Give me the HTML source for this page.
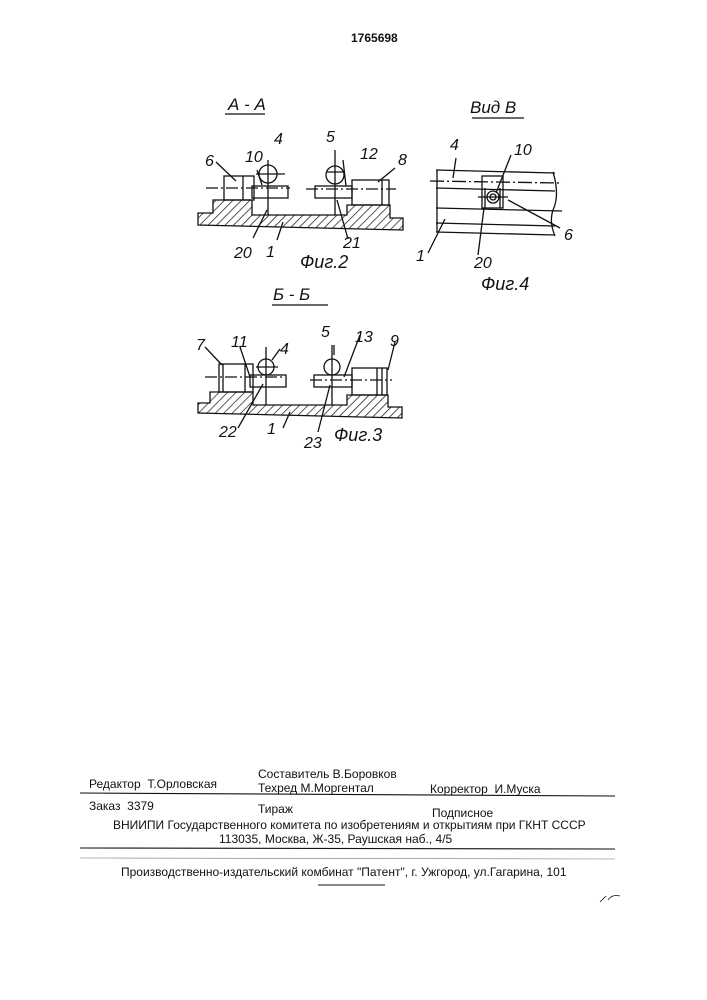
<!DOCTYPE html>
<html><head><meta charset="utf-8"><style>
body{margin:0;background:#fff;}
.pg{position:relative;width:707px;height:1000px;overflow:hidden;background:#fff;font-family:"Liberation Sans",sans-serif;color:#111;}
.t{position:absolute;font-size:12px;white-space:nowrap;}
</style></head><body><div class="pg">
<div class="t" style="left:351px;top:31px;font-size:12px;font-weight:bold;">1765698</div>
<svg width="707" height="1000" style="position:absolute;left:0;top:0" font-family="Liberation Sans, sans-serif" font-style="italic">
<defs><pattern id="h" width="6" height="6" patternUnits="userSpaceOnUse" patternTransform="rotate(45)"><line x1="0" y1="0" x2="0" y2="6" stroke="#111" stroke-width="1.4"/></pattern></defs>
<g stroke="#111" stroke-width="1.3" fill="none">
<!-- Fig 2 -->
<text x="228" y="110" font-size="17" fill="#111" stroke="none">А - А</text>
<line x1="225" y1="114" x2="265" y2="114"/>
<path d="M198,213 L213,213 L213,200 L252,200 L252,215 L347,215 L347,205 L390,205 L390,218 L403,218 L403,230 L198,225 Z" fill="url(#h)"/>
<rect x="224" y="176" width="30" height="24"/><line x1="243" y1="176" x2="243" y2="200"/>
<rect x="252" y="186" width="36" height="12"/>
<line x1="206" y1="188" x2="290" y2="188" stroke-dasharray="12,3,2,3"/>
<circle cx="268" cy="174" r="9"/><line x1="256" y1="174" x2="285" y2="174"/><line x1="268" y1="160" x2="268" y2="215"/>
<rect x="315" y="186" width="37" height="12"/>
<rect x="352" y="180" width="37" height="25"/><line x1="382" y1="180" x2="382" y2="205"/>
<line x1="306" y1="189" x2="396" y2="189" stroke-dasharray="12,3,2,3"/>
<circle cx="335" cy="175" r="9"/><line x1="326" y1="172" x2="345" y2="172"/><line x1="335" y1="150" x2="335" y2="215"/>
<line x1="216" y1="162" x2="236" y2="181"/><line x1="257" y1="170" x2="262" y2="185"/>
<line x1="395" y1="168" x2="378" y2="182"/><line x1="343" y1="160" x2="346" y2="186"/>
<line x1="267" y1="210" x2="253" y2="238"/><line x1="283" y1="222" x2="277" y2="240"/><line x1="337" y1="200" x2="348" y2="239"/>
<g fill="#111" stroke="none" font-size="16">
<text x="205" y="166">6</text><text x="245" y="162">10</text><text x="274" y="144">4</text>
<text x="326" y="142">5</text><text x="360" y="159">12</text><text x="398" y="165">8</text>
<text x="234" y="258">20</text><text x="266" y="257">1</text><text x="343" y="248">21</text>
<text x="300" y="268" font-size="18">Фиг.2</text>
<!-- Fig 3 labels -->
<text x="273" y="300" font-size="17">Б - Б</text>
<text x="196" y="350">7</text><text x="231" y="347">11</text><text x="280" y="354">4</text>
<text x="321" y="337">5</text><text x="355" y="342">13</text><text x="390" y="346">9</text>
<text x="219" y="437">22</text><text x="267" y="434">1</text><text x="304" y="448">23</text>
<text x="334" y="441" font-size="18">Фиг.3</text>
<!-- Fig 4 labels -->
<text x="470" y="113" font-size="17">Вид В</text>
<text x="450" y="150">4</text><text x="514" y="155">10</text><text x="564" y="240">6</text>
<text x="416" y="261">1</text><text x="474" y="268">20</text>
<text x="481" y="290" font-size="18">Фиг.4</text>
</g>
<!-- Fig 3 -->
<line x1="272" y1="305" x2="328" y2="305"/>
<path d="M198,403 L210,403 L210,392 L253,392 L253,405 L347,405 L347,395 L388,395 L388,407 L402,407 L402,418 L198,413 Z" fill="url(#h)"/>
<rect x="219" y="364" width="34" height="28"/><line x1="245" y1="364" x2="245" y2="392"/><line x1="223" y1="364" x2="223" y2="392"/>
<rect x="250" y="375" width="36" height="12"/>
<line x1="205" y1="377" x2="285" y2="377" stroke-dasharray="12,3,2,3"/>
<circle cx="266" cy="367" r="8"/><line x1="256" y1="367" x2="278" y2="367"/><line x1="266" y1="347" x2="266" y2="405"/>
<rect x="314" y="375" width="38" height="12"/>
<rect x="352" y="368" width="35" height="27"/><line x1="377" y1="368" x2="377" y2="395"/><line x1="382" y1="368" x2="382" y2="395"/>
<line x1="310" y1="380" x2="392" y2="380" stroke-dasharray="12,3,2,3"/>
<circle cx="332" cy="367" r="8"/><line x1="332" y1="345" x2="332" y2="405"/><line x1="334" y1="345" x2="334" y2="355"/>
<line x1="205" y1="347" x2="222" y2="365"/><line x1="240" y1="347" x2="250" y2="377"/><line x1="280" y1="349" x2="272" y2="360"/>
<line x1="360" y1="335" x2="344" y2="377"/><line x1="395" y1="342" x2="388" y2="370"/>
<line x1="263" y1="384" x2="238" y2="428"/><line x1="290" y1="412" x2="283" y2="428"/><line x1="330" y1="385" x2="318" y2="432"/>
<!-- Fig 4 -->
<line x1="472" y1="118" x2="524" y2="118"/>
<line x1="436" y1="170" x2="555" y2="173"/>
<line x1="430" y1="181" x2="562" y2="183" stroke-dasharray="14,3,2,3"/>
<line x1="436" y1="188" x2="555" y2="191"/>
<line x1="436" y1="208" x2="562" y2="211"/>
<line x1="436" y1="223" x2="555" y2="226"/>
<line x1="436" y1="232" x2="555" y2="235"/>
<line x1="437" y1="170" x2="437" y2="232"/>
<path d="M553,172 Q560,195 553,210 Q549,222 555,236"/>
<rect x="482" y="176" width="21" height="32"/>
<line x1="485" y1="188" x2="485" y2="208"/><line x1="500" y1="188" x2="500" y2="208"/>
<circle cx="493" cy="197" r="6"/><circle cx="493" cy="197" r="3"/>
<line x1="478" y1="197" x2="508" y2="197"/>
<line x1="456" y1="158" x2="453" y2="178"/>
<line x1="511" y1="155" x2="496" y2="193"/><line x1="508" y1="200" x2="560" y2="228"/>
<line x1="445" y1="219" x2="428" y2="253"/><line x1="484" y1="208" x2="478" y2="255"/>
<!-- footer lines -->
<line x1="80" y1="793" x2="615" y2="796" stroke-width="1.1"/>
<line x1="80" y1="848" x2="615" y2="849" stroke-width="1.1"/>
<line x1="80" y1="858" x2="615" y2="859" stroke-width="0.6" stroke="#777"/>
<line x1="318" y1="885" x2="385" y2="885" stroke-width="1"/>
<path d="M600,902 L606,896 M608,900 Q612,894 620,896" stroke-width="0.8"/>
</g>
</svg>
<div class="t" style="left:89px;top:777px;">Редактор&nbsp; Т.Орловская</div>
<div class="t" style="left:258px;top:767px;">Составитель В.Боровков</div>
<div class="t" style="left:258px;top:781px;">Техред М.Моргентал</div>
<div class="t" style="left:430px;top:782px;">Корректор&nbsp; И.Муска</div>
<div class="t" style="left:89px;top:799px;">Заказ&nbsp; 3379</div>
<div class="t" style="left:258px;top:802px;">Тираж</div>
<div class="t" style="left:432px;top:806px;">Подписное</div>
<div class="t" style="left:113px;top:818px;">ВНИИПИ Государственного комитета по изобретениям и открытиям при ГКНТ СССР</div>
<div class="t" style="left:219px;top:832px;">113035, Москва, Ж-35, Раушская наб., 4/5</div>
<div class="t" style="left:121px;top:865px;">Производственно-издательский комбинат "Патент", г. Ужгород, ул.Гагарина, 101</div>
</div></body></html>
